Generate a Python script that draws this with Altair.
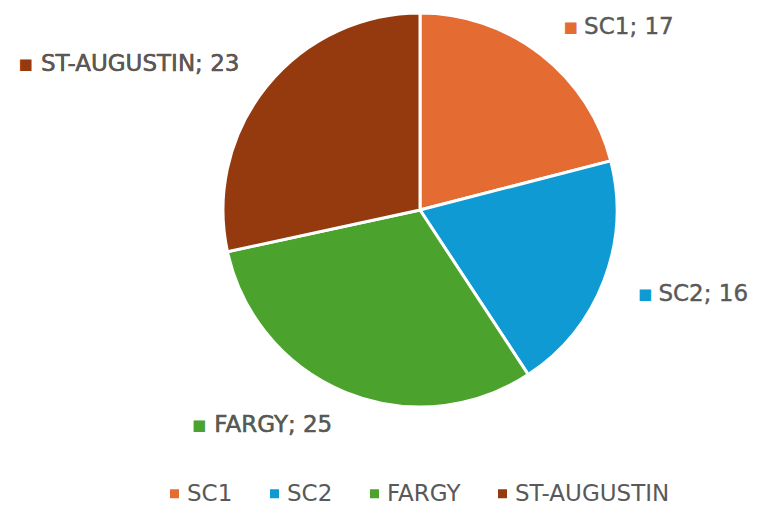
import altair as alt
import numpy as np
import pandas as pd

categories = ["SC1", "SC2", "FARGY", "ST-AUGUSTIN"]
values = [17, 16, 25, 23]
colors = ["#E46C32", "#0F9AD3", "#4BA32D", "#953A0E"]

total = sum(values)
cum = np.cumsum(values)
mid = cum - np.array(values) / 2.0
df = pd.DataFrame({
    "cat": categories,
    "value": values,
    "order": list(range(len(categories))),
    "mid": mid,
})
df["label"] = [f"{c}; {v}" for c, v in zip(categories, values)]
df["marker_label"] = ["\u25aa " + s for s in df["label"]]
df["side"] = np.where(df["mid"] < total / 2.0, "right", "left")

CX, CY = 412, 202
R = 197
LR = 232
FONT = "DejaVu Sans"
FS = 23
GRAY = "#595959"

theta_scale = alt.Scale(domain=[0, total])
color_scale = alt.Scale(domain=categories, range=colors)

base = alt.Chart(df)

arc = base.mark_arc(outerRadius=R, stroke="white", strokeWidth=3).encode(
    theta=alt.Theta("value:Q", stack=True, scale=theta_scale),
    color=alt.Color(
        "cat:N",
        scale=color_scale,
        legend=alt.Legend(
            title=None,
            orient="none",
            legendX=155,
            legendY=474,
            direction="horizontal",
            columns=4,
            symbolType="square",
            symbolSize=81,
            symbolStrokeWidth=0,
            labelFontSize=FS,
            labelFont=FONT,
            labelColor=GRAY,
            columnPadding=30,
            labelOffset=1,
            padding=0,
        ),
    ),
    order=alt.Order("order:Q"),
    x=alt.value(CX),
    y=alt.value(CY),
)

theta_mid = alt.Theta("mid:Q", stack=None, scale=theta_scale)

right_sq = base.transform_filter(alt.datum.side == "right").mark_text(
    radius=LR, align="left", baseline="middle", font=FONT, fontSize=FS, dx=1
).encode(
    theta=theta_mid,
    text=alt.value("\u25aa"),
    color=alt.Color("cat:N", scale=color_scale, legend=None),
    x=alt.value(CX),
    y=alt.value(CY),
)

right_txt = base.transform_filter(alt.datum.side == "right").mark_text(
    radius=LR, align="left", baseline="middle", font=FONT, fontSize=FS, dx=22,
    color=GRAY, stroke=GRAY, strokeWidth=0.4,
).encode(
    theta=theta_mid,
    text="label:N",
    x=alt.value(CX),
    y=alt.value(CY),
)

left_sq = base.transform_filter(alt.datum.side == "left").mark_text(
    radius=LR, align="right", baseline="middle", font=FONT, fontSize=FS
).encode(
    theta=theta_mid,
    text="marker_label:N",
    color=alt.Color("cat:N", scale=color_scale, legend=None),
    x=alt.value(CX),
    y=alt.value(CY),
)

left_txt = base.transform_filter(alt.datum.side == "left").mark_text(
    radius=LR, align="right", baseline="middle", font=FONT, fontSize=FS,
    color=GRAY, stroke=GRAY, strokeWidth=0.4,
).encode(
    theta=theta_mid,
    text="label:N",
    x=alt.value(CX),
    y=alt.value(CY),
)

chart = alt.layer(arc, right_sq, right_txt, left_sq, left_txt).properties(
    width=743,
    height=494,
    padding=0,
    autosize=alt.AutoSizeParams(type="none"),
).configure_view(stroke=None)

chart.save("out.html", embed_options={"renderer": "svg", "actions": False})
